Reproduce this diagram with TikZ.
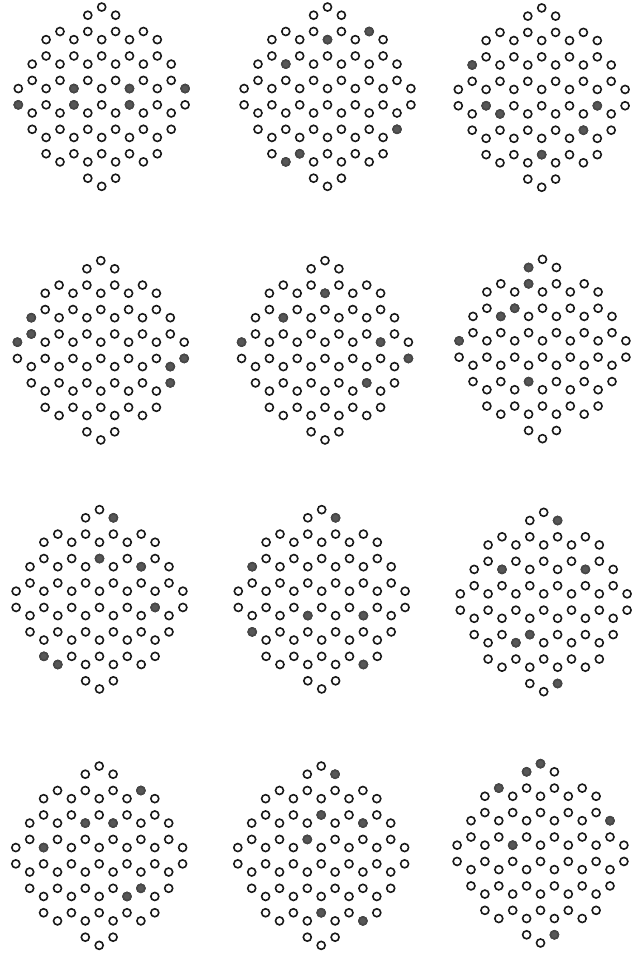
\documentclass[tikz,border=0pt]{standalone}
\usepackage{tikz}

\tikzstyle{site} = [
    draw=black!90,
    fill=white,
    line width=0.8mm
]
\tikzstyle{hit} = [
    draw=black!72,
    fill=black!66,
    line width=0.8mm
]

% one honeycomb patch: centre x, centre y, filled sites (column/row)
\newcommand{\sitegrid}[3]{%
  \begin{scope}[shift={(#1,#2)}]
    \foreach \c/\ys in {-6/{-0.5,0.5}, -5/{-2,-1,1,2},
        -4/{-3.5,-2.5,-0.5,0.5,2.5,3.5}, -3/{-4,-2,-1,1,2,4},
        -2/{-3.5,-2.5,-0.5,0.5,2.5,3.5}, -1/{-5,-4,-2,-1,1,2,4,5},
        0/{-5.5,-3.5,-2.5,-0.5,0.5,2.5,3.5,5.5}, 1/{-5,-4,-2,-1,1,2,4,5},
        2/{-3.5,-2.5,-0.5,0.5,2.5,3.5}, 3/{-4,-2,-1,1,2,4},
        4/{-3.5,-2.5,-0.5,0.5,2.5,3.5}, 5/{-2,-1,1,2}, 6/{-0.5,0.5}}
      \foreach \y in \ys
        \draw [site] (\c*13.9, \y*16.3) circle [radius=2mm];
    \foreach \c/\y in {#3}
      \draw [hit] (\c*13.9, \y*16.3) circle [radius=2mm];
  \end{scope}}

\begin{document}
\begin{tikzpicture}[x=0.5mm, y=-0.5mm]

\useasboundingbox (0,0) rectangle (638,966);

% row 1
\sitegrid{101.7}{96.7}{-6/0.5, -2/-0.5, -2/0.5, 2/-0.5, 2/0.5, 6/-0.5}
\sitegrid{327.5}{96.7}{3/-4, 0/-3.5, -3/-2, 5/2, -2/3.5, -3/4}
\sitegrid{541.7}{97.6}{-5/-2, -4/0.5, -3/1, 4/0.5, 3/2, 0/3.5}

% row 2
\sitegrid{100.8}{350.3}{-6/-0.5, -5/-2, -5/-1, 5/1, 5/2, 6/0.5}
\sitegrid{325}{350.3}{0/-3.5, -3/-2, -6/-0.5, 4/-0.5, 6/0.5, 3/2}
\sitegrid{542.5}{349}{-1/-5, -1/-4, -2/-2.5, -3/-2, -6/-0.5, -1/2}

% row 3
\sitegrid{99.5}{599.3}{1/-5, 0/-2.5, 3/-2, 4/0.5, -4/3.5, -3/4}
\sitegrid{321.7}{599.3}{1/-5, -5/-2, -1/1, 3/1, -5/2, 3/4}
\sitegrid{543.7}{602}{1/-5, -3/-2, 3/-2, -1/2, -2/2.5, 1/5}

% row 4
\sitegrid{99.2}{855.7}{3/-4, -1/-2, 1/-2, -4/-0.5, 3/2, 2/2.5}
\sitegrid{321.2}{855.7}{1/-5, 0/-2.5, 3/-2, -1/-1, 0/3.5, 3/4}
\sitegrid{540.5}{853.3}{0/-5.5, -1/-5, -3/-4, 5/-2, -2/-0.5, 1/5}

\end{tikzpicture}
\end{document}
